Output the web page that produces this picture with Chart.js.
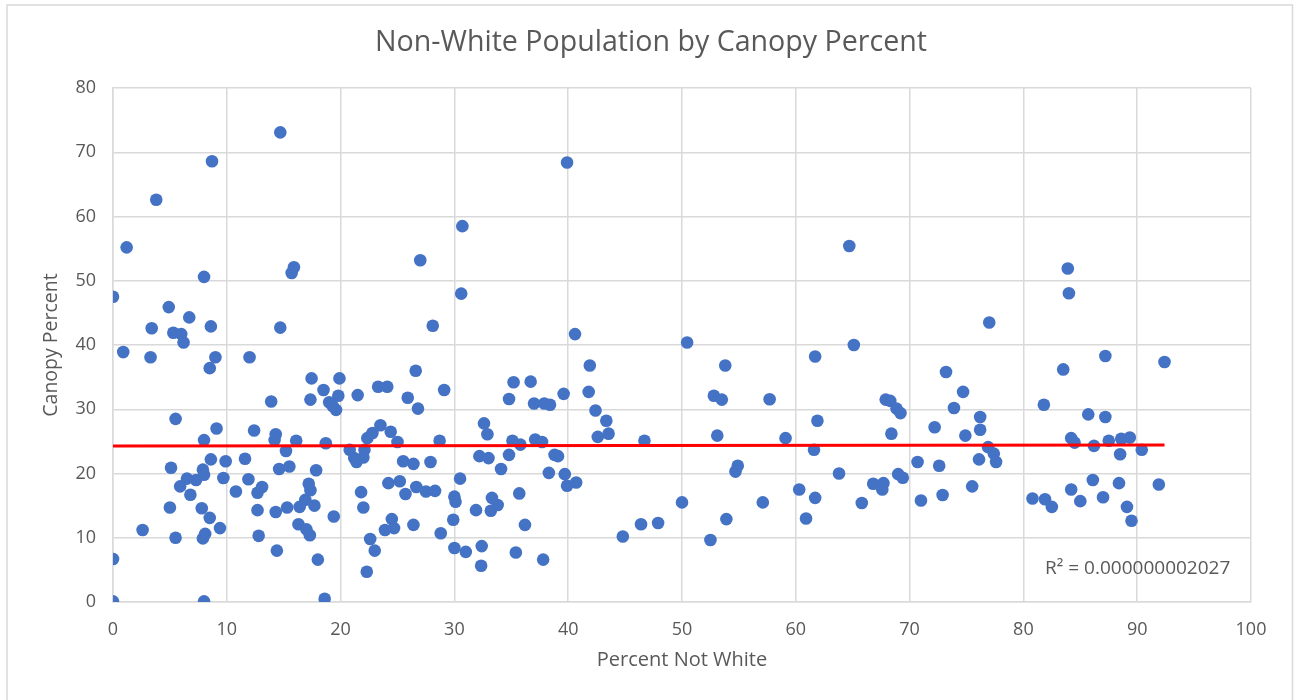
<!DOCTYPE html>
<html>
<head>
<meta charset="utf-8">
<script src="https://cdn.jsdelivr.net/npm/chart.js@4.4.1/dist/chart.umd.min.js"></script>
<style>
  html, body { margin: 0; padding: 0; background: #ffffff; }
  canvas { display: block; }
</style>
</head>
<body>
<canvas id="canopy-chart" width="1294" height="700"></canvas>
<script>
// Percent not white (x) and canopy percent (y)
const percentNotWhite = [
  0, 0, 0, 0.9, 1.2, 2.6, 3.4, 3.3, 3.8, 4.9,
  5.0, 5.1, 5.3, 5.5, 5.5, 6.0, 5.9, 6.2, 6.5, 6.7,
  6.8, 7.3, 7.9, 8.0, 7.8, 8.0, 8.0, 8.0, 7.9, 8.1,
  8.5, 8.5, 8.6, 8.6, 8.7, 9.0, 9.1, 9.4, 9.7, 9.9,
  10.8, 11.6, 12.0, 11.9, 12.4, 12.7, 12.8, 12.7, 13.1, 13.9,
  14.2, 14.3, 14.3, 14.4, 14.7, 14.7, 14.6, 15.2, 15.3, 15.5,
  15.7, 15.9, 16.1, 16.3, 16.4, 16.9, 17.0, 17.2, 17.3, 17.35,
  17.35, 17.45, 17.7, 17.85, 18.0, 18.6, 18.5, 18.7, 19.0, 19.3,
  19.4, 19.6, 19.8, 19.9, 20.8, 21.2, 21.4, 21.5, 21.8, 22.0,
  22.0, 22.1, 22.3, 22.35, 22.6, 22.8, 23.0, 23.3, 23.5, 23.9,
  24.1, 24.2, 24.4, 24.5, 24.7, 25.0, 25.2, 25.5, 25.7, 25.9,
  26.4, 26.4, 26.6, 26.65, 26.8, 27.0, 27.5, 27.9, 28.1, 28.3,
  28.7, 28.8, 29.1, 29.9, 30.0, 30.1, 30.0, 30.5, 30.6, 30.7,
  31.0, 31.9, 32.2, 32.35, 32.4, 32.6, 32.9, 33.0, 33.2, 33.3,
  33.8, 34.1, 34.8, 34.8, 35.2, 35.1, 35.4, 35.7, 35.8, 36.2,
  36.7, 37.0, 37.1, 37.7, 37.8, 37.9, 38.3, 38.4, 38.8, 39.1,
  39.6, 39.7, 39.9, 39.9, 40.6, 40.7, 41.9, 41.8, 42.4, 42.6,
  43.35, 43.55, 44.8, 46.4, 46.7, 47.9, 50.0, 50.45, 52.5, 52.8,
  53.1, 53.5, 53.8, 53.9, 54.7, 54.9, 57.1, 57.7, 59.1, 60.3,
  60.9, 61.6, 61.7, 61.7, 61.9, 63.8, 64.7, 65.1, 65.8, 66.8,
  67.7, 67.6, 67.9, 68.3, 68.4, 68.85, 69.0, 69.2, 69.4, 70.7,
  71.0, 72.2, 72.6, 72.9, 73.2, 73.9, 74.7, 74.9, 75.5, 76.1,
  76.2, 76.2, 76.9, 77.0, 77.4, 77.6, 80.8, 81.8, 81.9, 82.5,
  83.5, 83.9, 84.0, 84.2, 84.2, 84.5, 85.0, 85.7, 86.1, 86.2,
  87.0, 87.2, 87.2, 87.5, 88.4, 88.5, 88.6, 89.1, 89.35, 89.5,
  90.4, 91.9, 92.4
];
const canopyPercent = [
  47.5, 6.7, 0.1, 38.9, 55.2, 11.2, 42.6, 38.1, 62.6, 45.9,
  14.7, 20.9, 41.9, 28.5, 10.0, 41.7, 18.0, 40.4, 19.2, 44.3,
  16.7, 19.0, 20.6, 19.8, 14.6, 50.6, 25.2, 0.1, 9.9, 10.6,
  13.1, 36.4, 42.9, 22.2, 68.6, 38.1, 27.0, 11.5, 19.3, 21.9,
  17.2, 22.3, 38.1, 19.1, 26.7, 14.3, 10.3, 17.0, 17.9, 31.2,
  25.2, 26.1, 14.0, 8.0, 42.7, 73.1, 20.7, 23.5, 14.7, 21.1,
  51.2, 52.1, 25.1, 12.1, 14.8, 15.9, 11.3, 18.4, 10.4, 17.4,
  31.5, 34.8, 15.0, 20.5, 6.6, 0.5, 33.0, 24.7, 31.1, 30.5,
  13.3, 29.9, 32.1, 34.8, 23.7, 22.4, 21.8, 32.2, 17.1, 14.7,
  22.5, 23.7, 4.7, 25.5, 9.8, 26.3, 8.0, 33.5, 27.5, 11.2,
  33.5, 18.5, 26.5, 12.9, 11.5, 24.9, 18.8, 21.9, 16.8, 31.8,
  21.5, 12.0, 36.0, 17.9, 30.1, 53.2, 17.2, 21.8, 43.0, 17.3,
  25.1, 10.7, 33.0, 12.8, 16.4, 15.6, 8.4, 19.2, 48.0, 58.5,
  7.8, 14.3, 22.7, 5.65, 8.7, 27.8, 26.1, 22.4, 14.2, 16.2,
  15.1, 20.7, 31.6, 22.9, 34.2, 25.1, 7.7, 16.9, 24.5, 12.0,
  34.3, 30.9, 25.3, 24.9, 6.6, 30.9, 20.1, 30.7, 22.9, 22.7,
  32.4, 19.9, 68.4, 18.1, 41.7, 18.6, 36.8, 32.7, 29.8, 25.7,
  28.2, 26.2, 10.2, 12.1, 25.1, 12.3, 15.5, 40.4, 9.65, 32.1,
  25.9, 31.5, 36.8, 12.9, 20.3, 21.2, 15.5, 31.55, 25.5, 17.5,
  13.0, 23.7, 38.2, 16.2, 28.2, 20.0, 55.4, 40.0, 15.4, 18.4,
  18.5, 17.5, 31.5, 31.3, 26.2, 30.1, 19.9, 29.4, 19.35, 21.8,
  15.8, 27.2, 21.2, 16.65, 35.8, 30.2, 32.7, 25.9, 18.0, 22.2,
  28.8, 26.8, 24.1, 43.5, 23.1, 21.8, 16.1, 30.7, 16.0, 14.8,
  36.2, 51.9, 48.05, 25.5, 17.5, 24.8, 15.7, 29.2, 19.0, 24.3,
  16.3, 38.3, 28.8, 25.1, 18.5, 23.0, 25.4, 14.8, 25.6, 12.65,
  23.7, 18.3, 37.35
];

// Linear trendline end points as drawn in the reference
const trendX = [0, 92.4];
const trendY = [24.3, 24.45];

const xTicks = [0, 10, 20, 30, 40, 50, 60, 70, 80, 90, 100];
const yTicks = [0, 10, 20, 30, 40, 50, 60, 70, 80];

const rSquaredLabel = 'R\u00B2 = 0.000000002027';

const TEXT_COLOR = '#595959';
const GRID_COLOR = '#d9d9d9';
const FONT = "'Open Sans', sans-serif";

const points = percentNotWhite.map((x, i) => ({ x, y: canopyPercent[i] }));
const trendPoints = trendX.map((x, i) => ({ x, y: trendY[i] }));

// Outer frame of the chart object + the R² text
const framePlugin = {
  id: 'frame',
  beforeDraw(chart) {
    const ctx = chart.ctx;
    ctx.save();
    ctx.fillStyle = '#ffffff';
    ctx.fillRect(0, 0, chart.width, chart.height);
    ctx.strokeStyle = GRID_COLOR;
    ctx.lineWidth = 1.5;
    ctx.beginPath();
    ctx.moveTo(7, chart.height + 2);
    ctx.lineTo(7, 5);
    ctx.lineTo(1292.5, 5);
    ctx.lineTo(1292.5, chart.height + 2);
    ctx.stroke();
    ctx.restore();
  },
  afterDatasetsDraw(chart) {
    const { ctx, scales } = chart;
    ctx.save();
    ctx.fillStyle = TEXT_COLOR;
    ctx.font = "19px 'Open Sans', sans-serif";
    ctx.textAlign = 'left';
    ctx.textBaseline = 'alphabetic';
    ctx.fillText(rSquaredLabel, scales.x.getPixelForValue(81.9), scales.y.getPixelForValue(4.4));
    ctx.restore();
  }
};

new Chart(document.getElementById('canopy-chart'), {
  type: 'scatter',
  data: {
    datasets: [
      {
        label: 'Canopy',
        data: points,
        backgroundColor: '#4472C4',
        borderWidth: 0,
        pointRadius: 6.3,
        pointHoverRadius: 6.3,
        order: 2
      },
      {
        label: 'Trend',
        type: 'line',
        data: trendPoints,
        borderColor: '#ff0000',
        borderWidth: 3,
        pointRadius: 0,
        fill: false,
        order: 1
      }
    ]
  },
  options: {
    responsive: false,
    animation: false,
    devicePixelRatio: 1,
    layout: {
      padding: { left: 8, top: 0, right: 0, bottom: 0 }
    },
    plugins: {
      legend: { display: false },
      tooltip: { enabled: false },
      title: {
        display: true,
        text: 'Non-White Population by Canopy Percent',
        color: TEXT_COLOR,
        font: { family: FONT, size: 28.6, weight: 'normal' },
        padding: { top: 26, bottom: 27.7 }
      }
    },
    scales: {
      x: {
        type: 'linear',
        min: 0,
        max: 100,
        afterBuildTicks(scale) {
          scale.ticks = xTicks.map(v => ({ value: v }));
        },
        afterFit(scale) {
          scale.height = 98;
        },
        grid: {
          color: GRID_COLOR,
          lineWidth: 1.5,
          drawTicks: false
        },
        border: { color: GRID_COLOR, width: 1.5 },
        ticks: {
          color: TEXT_COLOR,
          padding: 17,
          maxRotation: 0,
          font: { family: FONT, size: 18 }
        },
        title: {
          display: true,
          text: 'Percent Not White',
          color: TEXT_COLOR,
          font: { family: FONT, size: 20 },
          padding: { top: 0, bottom: 28 }
        }
      },
      y: {
        type: 'linear',
        min: 0,
        max: 80,
        afterBuildTicks(scale) {
          scale.ticks = yTicks.map(v => ({ value: v }));
        },
        afterFit(scale) {
          scale.width = 105;
        },
        grid: {
          color: GRID_COLOR,
          lineWidth: 1.5,
          drawTicks: false
        },
        border: { color: GRID_COLOR, width: 1.5 },
        ticks: {
          color: TEXT_COLOR,
          padding: 17,
          font: { family: FONT, size: 18 }
        },
        title: {
          display: true,
          text: 'Canopy Percent',
          color: TEXT_COLOR,
          font: { family: FONT, size: 19.5 },
          padding: { top: 32, bottom: 0 }
        }
      },
      // empty right-hand box that keeps the plot's right edge at x = 100
      spacer: {
        type: 'linear',
        position: 'right',
        display: true,
        grid: { display: false },
        border: { display: false },
        ticks: { display: false },
        afterFit(scale) {
          scale.width = 43;
        }
      }
    }
  },
  plugins: [framePlugin]
});
</script>
</body>
</html>
